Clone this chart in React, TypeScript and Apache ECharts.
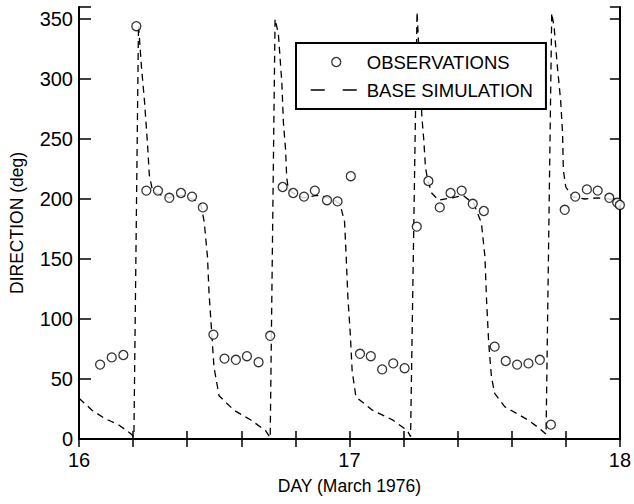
import React, { useEffect, useRef } from "react";
import * as echarts from "echarts";

const obsDay = [
  16.078, 16.121, 16.164, 16.212, 16.249, 16.292, 16.334, 16.377, 16.418, 16.458,
  16.497, 16.538, 16.58, 16.621, 16.664, 16.707, 16.753, 16.792, 16.832, 16.872,
  16.917, 16.956, 17.005, 17.039, 17.079, 17.121, 17.162, 17.204, 17.249, 17.292,
  17.334, 17.374, 17.415, 17.456, 17.497, 17.537, 17.578, 17.62, 17.662, 17.704,
  17.745, 17.796, 17.835, 17.878, 17.918, 17.961, 17.99, 18.0,
];
const obsDir = [
  62, 68, 70, 344, 207, 207, 201, 205, 202, 193,
  87, 67, 66, 69, 64, 86, 210, 205, 202, 207,
  199, 198, 219, 71, 69, 58, 63, 59, 177, 215,
  193, 205, 207, 196, 190, 77, 65, 62, 63, 66,
  12, 191, 202, 208, 207, 201, 197, 195,
];

const simDay = [
  16.0, 16.048, 16.096, 16.145, 16.188, 16.203,
  16.22, 16.231, 16.242, 16.253, 16.26, 16.27, 16.285, 16.33, 16.38, 16.42, 16.45,
  16.463, 16.475, 16.481, 16.49, 16.499, 16.518, 16.573, 16.634, 16.69, 16.707,
  16.725, 16.737, 16.75, 16.756, 16.764, 16.768, 16.773, 16.79, 16.83, 16.88, 16.93, 16.965,
  16.982, 16.988, 16.994, 17.003, 17.01, 17.024, 17.085, 17.159, 17.214, 17.226,
  17.25, 17.262, 17.268, 17.275, 17.281, 17.289, 17.304, 17.33, 17.38, 17.42, 17.46,
  17.488, 17.501, 17.507, 17.515, 17.525, 17.537, 17.574, 17.659, 17.702, 17.727,
  17.748, 17.757, 17.769, 17.781, 17.788, 17.791, 17.8, 17.824, 17.87, 17.92, 17.96, 18.0,
];
const simDir = [
  34, 24, 17, 12, 5, 2,
  345, 310, 282, 247, 220, 209, 205, 201, 203, 200, 196,
  181, 152, 121, 91, 60, 36, 24, 16, 7, 1,
  350, 338, 297, 263, 241, 218, 210, 205, 201, 203, 201, 196,
  181, 152, 119, 88, 57, 35, 24, 16, 7, 2,
  356, 300, 268, 249, 227, 216, 205, 199, 201, 203, 196,
  180, 152, 116, 80, 52, 38, 27, 16, 9, 4,
  355, 343, 310, 282, 255, 224, 210, 202, 200, 201, 200, 196,
];

const xTicks = { min: 16, max: 18, step: 0.2 };
const yTicks = { min: 0, max: 360, step: 50, lastLabel: 350 };

const FONT = "'Liberation Sans', Arial, Helvetica, sans-serif";

export default function App() {
  const ref = useRef<HTMLDivElement>(null);
  useEffect(() => {
    if (!ref.current) return;
    const chart = echarts.init(ref.current, undefined, { renderer: "svg" });
    const obs = obsDay.map((d, i) => [d, obsDir[i]]);
    const sim = simDay.map((d, i) => [d, simDir[i]]);
    const axisLine = { show: true, lineStyle: { color: "#000", width: 2 } };
    const xTick = { show: true, inside: true, length: 8, lineStyle: { color: "#000", width: 1.5 } };
    const option: any = {
      animation: false,
      backgroundColor: "#fff",
      textStyle: { fontFamily: FONT, color: "#000" },
      grid: { left: 77, right: 11, top: 7, bottom: 65, containLabel: false },
      xAxis: [
        {
          type: "value", min: xTicks.min, max: xTicks.max, interval: xTicks.step,
          position: "bottom", axisLine, axisTick: xTick, splitLine: { show: false },
          axisLabel: {
            fontSize: 20, color: "#000", margin: 11, fontFamily: FONT,
            formatter: (v: number) => (Math.abs(v - Math.round(v)) < 1e-6 ? String(Math.round(v)) : ""),
          },
          name: "DAY (March 1976)", nameLocation: "middle", nameGap: 38,
          nameTextStyle: { fontSize: 17.5, color: "#000", fontFamily: FONT },
        },
        {
          type: "value", min: xTicks.min, max: xTicks.max, interval: xTicks.step,
          position: "top", axisLine, axisTick: xTick, splitLine: { show: false },
          axisLabel: { show: false },
        },
      ],
      yAxis: [
        {
          type: "value", min: yTicks.min, max: yTicks.max, interval: yTicks.step,
          position: "left", axisLine,
          axisTick: { show: true, inside: true, length: 12, lineStyle: { color: "#000", width: 1.5 } },
          splitLine: { show: false },
          axisLabel: {
            fontSize: 20, color: "#000", margin: 6, fontFamily: FONT,
            formatter: (v: number) => (v <= yTicks.lastLabel ? String(v) : ""),
          },
          name: "DIRECTION (deg)", nameLocation: "middle", nameGap: 53,
          nameTextStyle: { fontSize: 17.5, color: "#000", fontFamily: FONT },
        },
        {
          type: "value", min: yTicks.min, max: yTicks.max, interval: yTicks.step,
          position: "right", axisLine,
          axisTick: { show: true, inside: true, length: 10, lineStyle: { color: "#000", width: 1.5 } },
          splitLine: { show: false }, axisLabel: { show: false },
        },
      ],
      legend: {
        show: true, orient: "vertical", left: 296, top: 43,
        padding: [9, 13, 9, 14], itemGap: 8, itemWidth: 51, itemHeight: 9,
        backgroundColor: "#fff", borderColor: "#000", borderWidth: 2, borderRadius: 0,
        textStyle: { fontSize: 18.5, color: "#000", lineHeight: 20, fontFamily: FONT },
        data: [
          { name: "OBSERVATIONS", icon: "circle", itemStyle: { color: "#fff", borderColor: "#000", borderWidth: 1.3 } },
          {
            name: "BASE SIMULATION",
            itemStyle: { color: "transparent", borderWidth: 0, opacity: 0 },
            lineStyle: { type: [14, 18], width: 1.5, color: "#000", opacity: 1 },
          },
        ],
      },
      series: [
        {
          name: "BASE SIMULATION", type: "line", data: sim, symbol: "none", showSymbol: false,
          lineStyle: { color: "#000", width: 1.3, type: [7, 5] }, itemStyle: { color: "#000" },
          z: 2,
        },
        {
          name: "OBSERVATIONS", type: "scatter", data: obs, symbol: "circle", symbolSize: 9,
          itemStyle: { color: "#fff", borderColor: "#000", borderWidth: 1.3 },
          clip: false, z: 3,
        },
      ],
    };
    chart.setOption(option);
    return () => chart.dispose();
  }, []);
  return <div ref={ref} style={{ width: 634, height: 504, position: "absolute", left: 0, top: 0 }} />;
}
